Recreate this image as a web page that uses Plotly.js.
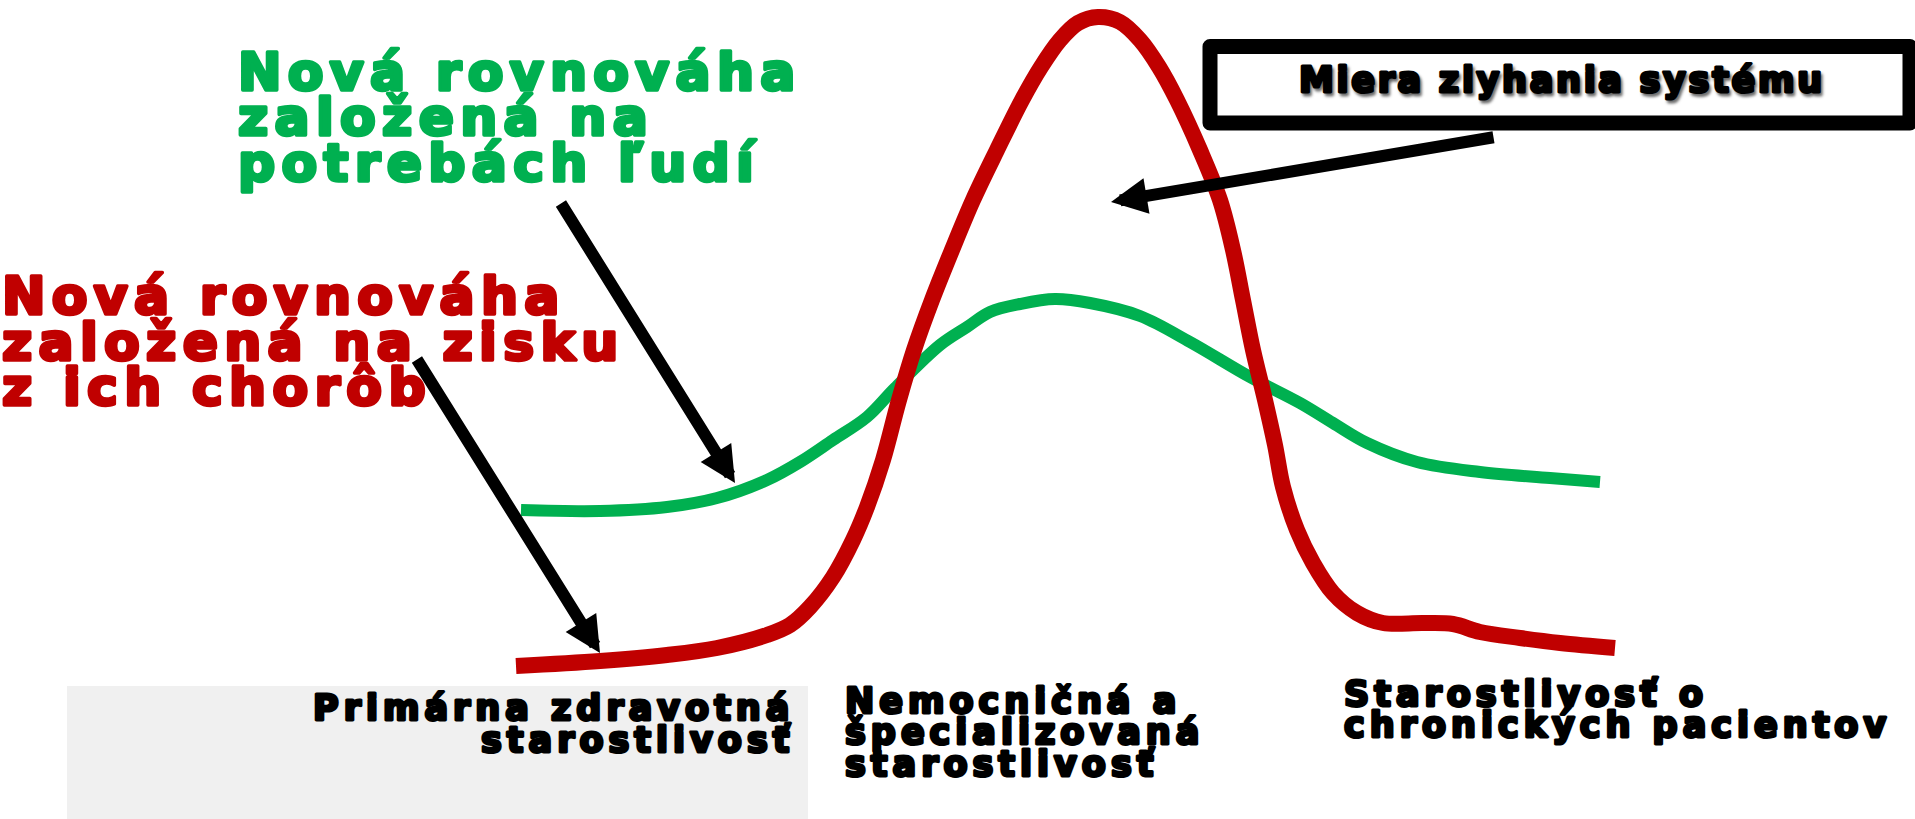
<!DOCTYPE html>
<html><head><meta charset="utf-8">
<script src="https://cdn.plot.ly/plotly-3.0.1.min.js"></script>
<style>
html,body{margin:0;padding:0;background:#fff;overflow:hidden}
#chart{width:1915px;height:819px}
.shapelayer path{stroke-linejoin:round}
</style></head><body><div id="chart"></div>
<script>
// ---- data (y grows downward) ----
const peopleX = [521,600,667,717,767,800,833,867,895,940,967,990,1020,1055,1090,1140,1190,1250,1300,1333,1367,1417,1480,1550,1600];
const peopleY = [510,511,507,498,480,462,440,417,388,345,327,312,304,299,303,316,342,377,403,423,443,462,472,478,482];
const profitX = [516,600,667,717,767,790,810,833,853,867,883,899,914,932,952,973,997,1022,1041,1060,1078,1098,1120,1140,1159,1177,1200,1220,1233,1243,1253,1265,1275,1283,1297,1313,1333,1357,1383,1423,1453,1480,1520,1560,1615];
const profitY = [666,661,655,648,635,625,607,577,540,507,460,400,350,300,250,200,150,100,67,40,23,17,22,40,67,100,150,200,250,300,350,400,445,487,530,563,593,613,623,623,624,632,638,643,648];

const greenTitle = ['Nová rovnováha','založená na','potrebách ľudí'];
const redTitle = ['Nová rovnováha','založená na zisku','z ich chorôb'];
const failureLabel = 'Miera zlyhania systému';
const stagePrimary = ['Primárna zdravotná','starostlivosť'];
const stageHospital = ['Nemocničná a','špecializovaná','starostlivosť'];
const stageChronic = ['Starostlivosť o','chronických pacientov'];

// ---- styling / layout ----
const GREEN = '#00b050', RED = '#c00000';
const FONT = '"DejaVu Sans", sans-serif';
function heavy(s, ls, color, sw){
  return '<span style="letter-spacing:' + ls + 'px;stroke:' + color + ';stroke-width:' + sw +
         'px;stroke-linejoin:round">' + s + '</span>';
}

const ann = [];
function addLines(lines, x, xanchor, yCenters, size, color, ls, sw){
  lines.forEach((t, i) => {
    ann.push({
      xref:'x', yref:'y', x:x, y:yCenters[i], xanchor:xanchor, yanchor:'middle',
      align: xanchor === 'right' ? 'right' : (xanchor === 'left' ? 'left' : 'center'),
      showarrow:false, text: heavy(t, ls, color, sw),
      font: {family:FONT, size:size, color:color, weight:700}
    });
  });
}
addLines(greenTitle, 236, 'left', [72, 117, 163], 52, GREEN, 6.3, 3.5);
addLines(redTitle, 0, 'left', [296, 342, 387], 52, RED, 6.3, 3.5);
addLines(stagePrimary, 796, 'right', [708, 740], 35, '#000', 5, 3);
addLines(stageHospital, 843, 'left', [701, 732, 764], 35, '#000', 5, 3);
addLines(stageChronic, 1342, 'left', [694, 725], 35, '#000', 5, 3);
addLines([failureLabel], 1562, 'center', [80], 35, '#000', 2.7, 3);
ann[ann.length - 1].font.shadow = '2px 3px 3px rgba(0,0,0,0.45)';

const arrows = [[735,483,560,202],[600,653,416,358],[1111,202,1495,137]];
arrows.forEach(a => ann.push({
  xref:'x', yref:'y', axref:'x', ayref:'y', x:a[0], y:a[1], ax:a[2], ay:a[3],
  text:'', showarrow:true, arrowhead:2, arrowsize:0.6, arrowwidth:12, arrowcolor:'#000',
  standoff:0, startstandoff:0
}));

const traces = [
  {x:peopleX, y:peopleY, type:'scatter', mode:'lines', hoverinfo:'skip',
   line:{color:GREEN, width:12, shape:'spline', smoothing:1}},
  {x:profitX, y:profitY, type:'scatter', mode:'lines', hoverinfo:'skip',
   line:{color:RED, width:16, shape:'spline', smoothing:1}}
];

const layout = {
  width:1915, height:819, margin:{l:0,r:0,t:0,b:0,pad:0},
  paper_bgcolor:'#fff', plot_bgcolor:'#fff', showlegend:false,
  xaxis:{range:[0,1915], visible:false, fixedrange:true},
  yaxis:{range:[819,0], visible:false, fixedrange:true},
  shapes:[
    {type:'rect', xref:'x', yref:'y', x0:67, x1:808, y0:686, y1:819, fillcolor:'#f0f0f0', line:{width:0}, layer:'below'},
    {type:'rect', xref:'x', yref:'y', x0:1210, x1:1910, y0:46.5, y1:123, fillcolor:'#fff', line:{color:'#000', width:15}, layer:'above'}
  ],
  annotations: ann
};
Plotly.newPlot('chart', traces, layout, {staticPlot:true, displayModeBar:false});
</script></body></html>
